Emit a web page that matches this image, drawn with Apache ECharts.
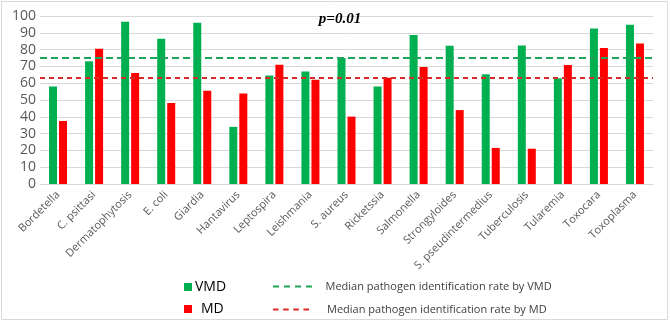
<!DOCTYPE html>
<html>
<head>
<meta charset="utf-8">
<script src="https://cdn.jsdelivr.net/npm/echarts@6/dist/echarts.min.js"></script>
<style>html,body{margin:0;padding:0;background:#fff}#c{width:670px;height:322px}</style>
</head>
<body>
<div id="c"></div>
<script>
const categories = ['Bordetella','C. psittasi','Dermatophytosis','E. coli','Giardia','Hantavirus','Leptospira','Leishmania','S. aureus','Ricketssia','Salmonella','Strongyloides','S. pseudintermedius','Tuberculosis','Tularemia','Toxocara','Toxoplasma'];
const vmdValues = [58, 73, 96.6, 86.5, 96, 34, 64.6, 67, 75, 58, 88.7, 82.3, 65.4, 82.4, 63, 92.5, 94.8];
const mdValues  = [37.5, 80.5, 66, 48.2, 55.5, 53.8, 71, 62, 40.1, 63.2, 69.7, 44, 21.5, 21, 70.8, 81, 83.6];
const vmdMedian = 75.2;
const mdMedian = 63.4;
const yTicks = [0, 100, 10];
const titleText = 'p=0.01';
const vmdName = 'VMD', mdName = 'MD';
const vmdMedName = 'Median pathogen identification rate by VMD';
const mdMedName = 'Median pathogen identification rate by MD';

const GREEN = '#00b050', RED = '#ff0000';
const GDASH = '#1ea55a', RDASH = '#d92a2a';
const dashIcon = 'path://M0,0h6v2h-6z M11,0h6v2h-6z M22,0h6v2h-6z M33,0h6v2h-6z';
const chart = echarts.init(document.getElementById('c'), null, {renderer:'canvas'});
const font = "'Open Sans', sans-serif";
chart.setOption({
  animation: false,
  backgroundColor: '#fff',
  title: {
    text: titleText, left: 335, top: 7, textAlign: 'center',
    textStyle: {fontFamily: "'Liberation Serif', serif", fontStyle: 'italic', fontWeight: 'bold', fontSize: 15, color: '#000'}
  },
  graphic: [{type:'rect', shape:{x:1.5,y:1.5,width:666,height:318}, style:{fill:null, stroke:'#d9d9d9', lineWidth:1}, silent:true}],
  grid: {left: 40, right: 17, top: 16, bottom: 138},
  xAxis: {
    type: 'category', data: categories,
    axisTick: {show: false},
    axisLine: {lineStyle: {color: '#d9d9d9'}},
    axisLabel: {rotate: 45, interval: 0, margin: 9, fontSize: 11, color: '#595959', fontFamily: font}
  },
  yAxis: {
    type: 'value', min: yTicks[0], max: yTicks[1], interval: yTicks[2],
    axisLine: {show: false}, axisTick: {show: false},
    axisLabel: {margin: 4, fontSize: 14, color: '#595959', fontFamily: font},
    splitLine: {lineStyle: {color: '#d9d9d9'}}
  },
  legend: [
    {data:[vmdName], left: 179, top: 275, icon:'rect', itemWidth: 8, itemHeight: 8, textStyle:{fontSize:14, color:'#000', fontFamily: font, padding:[0,0,0,-2]}},
    {data:[mdName], left: 179, top: 297, icon:'rect', itemWidth: 8, itemHeight: 8, textStyle:{fontSize:14, color:'#000', fontFamily: font, padding:[0,0,0,4]}},
    {data:[{name: vmdMedName, icon: dashIcon}], left: 268, top: 276, itemWidth: 40, itemHeight: 2, textStyle:{fontSize:11, color:'#404040', fontFamily: font, padding:[0,0,0,8]}},
    {data:[{name: mdMedName, icon: dashIcon}], left: 268, top: 299, itemWidth: 36, itemHeight: 2, textStyle:{fontSize:11, color:'#404040', fontFamily: font, padding:[0,0,0,13]}}
  ],
  series: [
    {name: vmdName, type: 'bar', data: vmdValues, barWidth: 8, barGap: '25%', itemStyle: {color: GREEN}},
    {name: mdName, type: 'bar', data: mdValues, barWidth: 8, barGap: '25%', itemStyle: {color: RED}},
    {name: vmdMedName, type: 'line', data: [], symbol: 'none', lineStyle: {color: GDASH, width: 2, type: [6, 4]}, itemStyle:{color: GDASH},
      markLine: {silent: true, symbol: 'none', label: {show: false}, lineStyle: {color: GDASH, width: 2, type: [7, 4]}, data: [{yAxis: vmdMedian}]}},
    {name: mdMedName, type: 'line', data: [], symbol: 'none', lineStyle: {color: RDASH, width: 2, type: [5, 4]}, itemStyle:{color: RDASH},
      markLine: {silent: true, symbol: 'none', label: {show: false}, lineStyle: {color: RDASH, width: 2, type: [5, 4]}, data: [{yAxis: mdMedian}]}}
  ]
});
</script>
</body>
</html>
